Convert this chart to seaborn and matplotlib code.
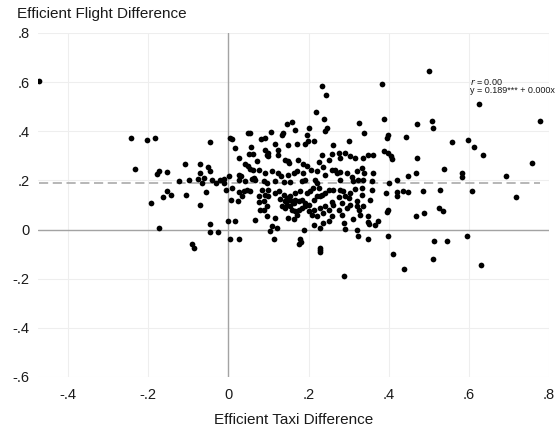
import numpy as np
import pandas as pd
import matplotlib
matplotlib.use("Agg")
import matplotlib.pyplot as plt
import seaborn as sns

# points left of zero taxi difference
left_taxi = [-0.473, -0.244, -0.204, -0.184, -0.234, -0.177, -0.172, -0.154, -0.194, -0.162,
             -0.144, -0.152, -0.105, -0.107, -0.122, -0.097, -0.072, -0.070, -0.072, -0.045,
             -0.052, -0.047, -0.062, -0.075, -0.065, -0.055, -0.042, -0.032, -0.020, -0.010,
             -0.012, -0.005, -0.172, -0.045, -0.047, -0.027, -0.092, -0.085]
left_flight = [0.606, 0.374, 0.366, 0.374, 0.248, 0.228, 0.240, 0.236, 0.110, 0.134,
               0.142, 0.159, 0.142, 0.268, 0.199, 0.203, 0.098, 0.268, 0.232, 0.358,
               0.256, 0.240, 0.211, 0.207, 0.191, 0.154, 0.203, 0.191, 0.203, 0.207,
               0.191, 0.163, 0.008, 0.024, -0.008, -0.008, -0.057, -0.077]

# upper band and right-hand side
upper_taxi = [0.147, 0.159, 0.167, 0.050, 0.055, 0.107, 0.082, 0.092, 0.134, 0.137, 0.005, 0.010,
              0.234, 0.244, 0.218, 0.239, 0.246, 0.240, 0.200, 0.196, 0.325, 0.339,
              0.501, 0.384, 0.625, 0.777, 0.389, 0.471, 0.508, 0.511, 0.443, 0.398, 0.396,
              0.558, 0.598, 0.613, 0.635, 0.471, 0.757, 0.538, 0.468, 0.448, 0.583, 0.583,
              0.692, 0.389, 0.399, 0.405, 0.408,
              0.394, 0.420, 0.420, 0.436, 0.448, 0.486, 0.528, 0.420, 0.402, 0.399, 0.397,
              0.526, 0.535, 0.373, 0.468, 0.488, 0.608, 0.717]
upper_flight = [0.431, 0.439, 0.407, 0.394, 0.394, 0.398, 0.370, 0.374, 0.386, 0.394, 0.374, 0.370,
                0.585, 0.549, 0.477, 0.450, 0.413, 0.400, 0.413, 0.383, 0.434, 0.393,
                0.646, 0.593, 0.512, 0.443, 0.451, 0.431, 0.443, 0.415, 0.378, 0.386, 0.374,
                0.358, 0.366, 0.337, 0.305, 0.293, 0.272, 0.248, 0.232, 0.220, 0.232, 0.215,
                0.218, 0.318, 0.312, 0.298, 0.289,
                0.150, 0.152, 0.138, 0.159, 0.154, 0.155, 0.163, 0.203, 0.190, 0.081, 0.072,
                0.088, 0.077, 0.034, 0.057, 0.068, 0.159, 0.134]

# dense central cloud
core_taxi = [0.016, 0.057, 0.092, 0.117, 0.123, 0.148, 0.171, 0.192, 0.198, 0.213, 0.261, 0.300, 0.096, 0.100,
             0.027, 0.052, 0.061, 0.042, 0.049, 0.071, 0.098, 0.123, 0.142, 0.150, 0.152, 0.173, 0.185, 0.196,
             0.227, 0.233, 0.258, 0.275, 0.279, 0.291, 0.304, 0.315, 0.337, 0.349, 0.362, 0.250, 0.236, 0.206,
             0.001, 0.026, 0.032, 0.055, 0.061, 0.076, 0.092, 0.109, 0.125, 0.132, 0.150, 0.163, 0.171, 0.185,
             0.221, 0.258, 0.266, 0.271, 0.279, 0.242, 0.296, 0.308, 0.320, 0.333, 0.339, 0.362, 0.063, 0.067,
             0.059, 0.027, 0.042,
             0.088, 0.096, 0.117, 0.138, 0.154, 0.183, 0.192, 0.217, 0.221, 0.279, 0.312, 0.323, 0.337, 0.358,
             0.009, 0.026, 0.038, 0.046, 0.055, 0.084, 0.100, 0.117, 0.127, 0.138, 0.146, 0.154, 0.167, 0.179,
             0.196, 0.204, 0.211, 0.225, 0.233, 0.242, 0.250, 0.260, 0.279, 0.287, 0.304, 0.316, 0.333, 0.358,
             0.007, 0.024, 0.034, 0.076, 0.077, 0.090, 0.092, 0.099, 0.130, 0.142, 0.150, 0.159, 0.163, 0.167,
             0.177, 0.183, 0.190, 0.200, 0.213, 0.221, 0.229, 0.258, 0.275, 0.291, 0.301, 0.320, 0.333, 0.354,
             0.080, 0.088, 0.096, 0.134, 0.142, 0.146, 0.154, 0.159, 0.167, 0.175, 0.183, 0.192, 0.200, 0.213,
             0.229, 0.240, 0.250, 0.262, 0.275, 0.283, 0.296, 0.304, 0.320, 0.325, 0.337,
             0.096, 0.117, 0.150, 0.163, 0.171, 0.208, 0.221, 0.237, 0.258, 0.283, 0.312, 0.329, 0.348]
core_flight = [0.332, 0.336, 0.325, 0.350, 0.325, 0.346, 0.350, 0.350, 0.362, 0.359, 0.346, 0.362, 0.305, 0.312,
               0.291, 0.309, 0.309, 0.268, 0.260, 0.278, 0.301, 0.302, 0.282, 0.278, 0.271, 0.285, 0.268, 0.257,
               0.274, 0.305, 0.309, 0.312, 0.291, 0.312, 0.298, 0.291, 0.291, 0.305, 0.305, 0.285, 0.253, 0.244,
               0.217, 0.224, 0.217, 0.248, 0.241, 0.241, 0.230, 0.237, 0.230, 0.217, 0.221, 0.230, 0.237, 0.230,
               0.237, 0.241, 0.244, 0.230, 0.233, 0.224, 0.230, 0.214, 0.237, 0.251, 0.230, 0.230, 0.210, 0.203,
               0.206, 0.201, 0.196,
               0.196, 0.190, 0.196, 0.192, 0.192, 0.196, 0.203, 0.203, 0.190, 0.203, 0.196, 0.201, 0.203, 0.196,
               0.169, 0.152, 0.156, 0.163, 0.156, 0.163, 0.163, 0.149, 0.156, 0.142, 0.129, 0.136, 0.149, 0.156,
               0.149, 0.156, 0.169, 0.169, 0.142, 0.149, 0.163, 0.163, 0.163, 0.156, 0.149, 0.165, 0.169, 0.163,
               0.122, 0.115, 0.136, 0.136, 0.111, 0.118, 0.142, 0.136, 0.125, 0.115, 0.122, 0.115, 0.108, 0.122,
               0.115, 0.119, 0.108, 0.102, 0.122, 0.136, 0.136, 0.111, 0.133, 0.136, 0.129, 0.115, 0.142, 0.122,
               0.081, 0.079, 0.095, 0.095, 0.088, 0.102, 0.095, 0.081, 0.075, 0.081, 0.088, 0.095, 0.075, 0.081,
               0.088, 0.095, 0.081, 0.102, 0.081, 0.108, 0.088, 0.102, 0.095, 0.081, 0.095,
               0.054, 0.047, 0.047, 0.041, 0.061, 0.061, 0.054, 0.068, 0.054, 0.061, 0.041, 0.061, 0.057]

# around and below zero flight difference
low_taxi = [-0.001, 0.016, 0.066, 0.109, 0.121, 0.105, 0.188, 0.213, 0.229, 0.250, 0.291, 0.320, 0.349, 0.367,
            0.289, 0.237, 0.351,
            0.005, 0.027, 0.115, 0.179, 0.182, 0.177, 0.229, 0.229, 0.229, 0.324, 0.349, 0.398, 0.411,
            0.438, 0.289, 0.513, 0.545, 0.511, 0.595, 0.630]
low_flight = [0.034, 0.034, 0.038, 0.014, 0.007, -0.007, 0.000, 0.020, 0.007, 0.034, 0.003, 0.000, 0.030, 0.020,
              0.028, 0.028, 0.022,
              -0.037, -0.037, -0.037, -0.037, -0.049, -0.057, -0.073, -0.085, -0.092, -0.028, -0.037, -0.028, -0.098,
              -0.159, -0.187, -0.045, -0.045, -0.118, -0.028, -0.146]

fit_intercept = 0.189
fit_slope = 0.000
fit_r = 0.00

x_ticks = [-0.4, -0.2, 0, 0.2, 0.4, 0.6, 0.8]
x_tick_labels = ["-.4", "-.2", "0", ".2", ".4", ".6", ".8"]
y_ticks = [-0.6, -0.4, -0.2, 0, 0.2, 0.4, 0.6, 0.8]
y_tick_labels = ["-.6", "-.4", "-.2", "0", ".2", ".4", ".6", ".8"]

df = pd.DataFrame({
    "taxi": left_taxi + upper_taxi + core_taxi + low_taxi,
    "flight": left_flight + upper_flight + core_flight + low_flight,
})

sns.set_theme(style="white")
plt.rcParams["font.family"] = ["Liberation Sans", "DejaVu Sans"]

fig = plt.figure(figsize=(5.59, 4.29), dpi=100)
ax = fig.add_axes([38 / 559, 52 / 429, 511 / 559, 344 / 429])

ax.grid(True, color="#eeeeee", linewidth=0.8)
ax.set_axisbelow(True)
ax.axhline(0, color="#a3a3a3", linewidth=1.0, zorder=1)
ax.axvline(0, color="#a3a3a3", linewidth=1.0, zorder=1)

xs = np.array([df["taxi"].min(), df["taxi"].max()])
ax.plot(xs, fit_intercept + fit_slope * xs, color="#a3a3a3", linewidth=1.1,
        dashes=(6, 3), zorder=1.5)

sns.scatterplot(data=df, x="taxi", y="flight", color="black", s=17, linewidth=0,
                legend=False, ax=ax, zorder=3)

ax.set_xlim(-0.475, 0.8)
ax.set_ylim(-0.6, 0.8)
ax.set_xticks(x_ticks, x_tick_labels)
ax.set_yticks(y_ticks, y_tick_labels)
ax.tick_params(axis="both", length=0, labelsize=10.5, colors="#1a1a1a")
ax.tick_params(axis="y", pad=6)
ax.tick_params(axis="x", pad=8)
for s in ax.spines.values():
    s.set_visible(False)

ax.set_xlabel("Efficient Taxi Difference", fontsize=11, color="#1a1a1a", labelpad=8)
ax.set_ylabel("")
fig.text(17 / 559, 1 - 14 / 429, "Efficient Flight Difference", fontsize=11,
         color="#1a1a1a", ha="left", va="center")

ax.text(0.603, 0.602, f"$r$ = {fit_r:.2f}", fontsize=6.5, ha="left", va="center", color="#1a1a1a")
ax.text(0.603, 0.568, f"y = {fit_intercept:.3f}*** + {fit_slope:.3f}x", fontsize=6.5,
        ha="left", va="center", color="#1a1a1a")

fig.savefig("out.png", dpi=100)
